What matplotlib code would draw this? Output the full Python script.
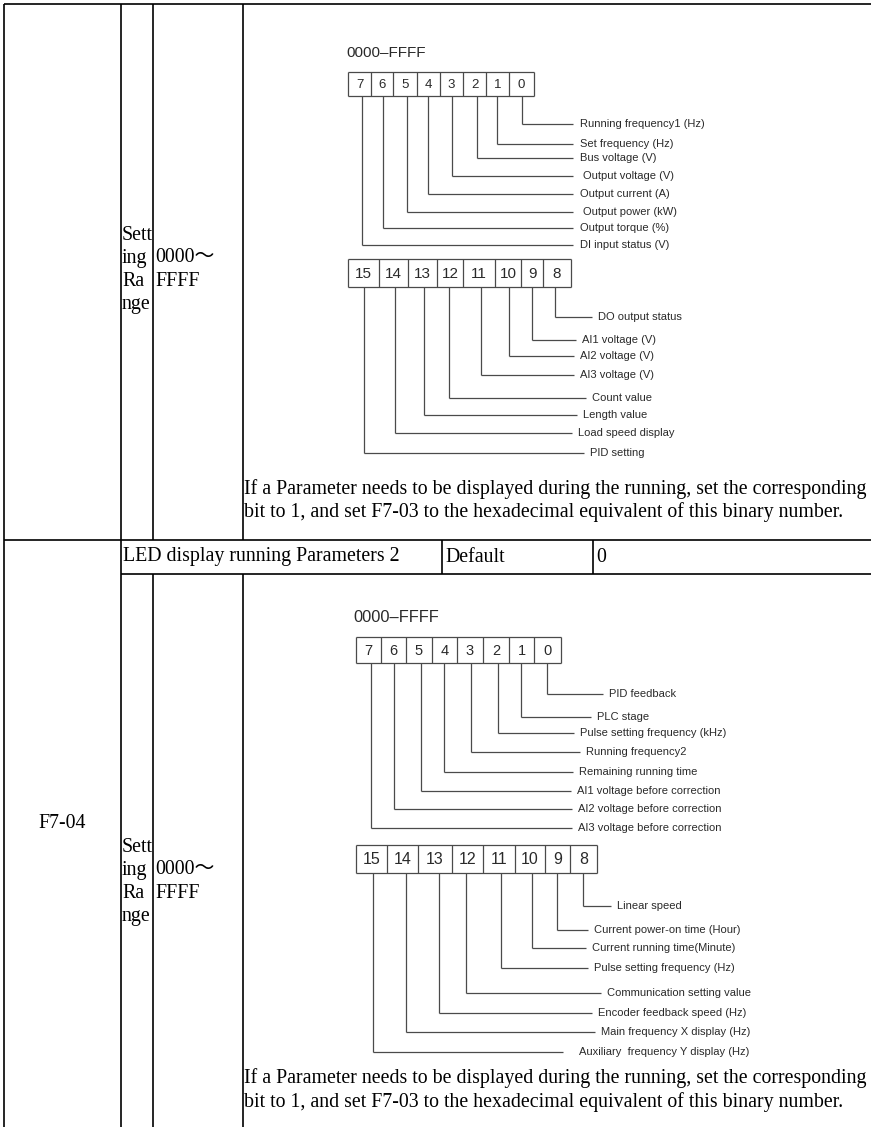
import matplotlib.pyplot as plt

# bit names, taken from the two diagrams
names_f703_low = ['Running frequency1 (Hz)', 'Set frequency (Hz)', 'Bus voltage (V)',
                  'Output voltage (V)', 'Output current (A)', 'Output power (kW)',
                  'Output torque (%)', 'DI input status (V)']
names_f703_high = ['DO output status', 'AI1 voltage (V)', 'AI2 voltage (V)', 'AI3 voltage (V)',
                   'Count value', 'Length value', 'Load speed display', 'PID setting']
names_f704_low = ['PID feedback', 'PLC stage', 'Pulse setting frequency (kHz)',
                  'Running frequency2', 'Remaining running time',
                  'AI1 voltage before correction', 'AI2 voltage before correction',
                  'AI3 voltage before correction']
names_f704_high = ['Linear speed', 'Current power-on time (Hour)', 'Current running time(Minute)',
                   'Pulse setting frequency (Hz)', 'Communication setting value',
                   'Encoder feedback speed (Hz)', 'Main frequency X display (Hz)',
                   'Auxiliary  frequency Y display (Hz)']
bits_low = ['7', '6', '5', '4', '3', '2', '1', '0']
bits_high = ['15', '14', '13', '12', '11', '10', '9', '8']

range_text = '0000\u2013FFFF'
setting_words = ['Sett', 'ing', 'Ra', 'nge']
range_words = ['0000\uff5e', 'FFFF']
note_lines = ['If a Parameter needs to be displayed during the running, set the corresponding',
              'bit to 1, and set F7-03 to the hexadecimal equivalent of this binary number.']
header_cells = ['LED display running Parameters 2', 'Default', '0']
code_f704 = 'F7-04'

W, H = 871, 1127
fig = plt.figure(figsize=(W / 100, H / 100), dpi=100)
ax = fig.add_axes([0, 0, 1, 1])
ax.set_xlim(0, W)
ax.set_ylim(H, 0)
ax.axis('off')

SERIF = ['Liberation Serif', 'Noto Sans CJK SC', 'DejaVu Serif']
SANS = 'Liberation Sans'
GRAY = '#4a4a4a'
TXT = '#2a2a2a'
FS = 14.3   # body text
FL = 8.0    # bit names


def hline(y, x0, x1, c='black', lw=1.2):
    ax.plot([x0, x1], [y, y], color=c, lw=lw, solid_capstyle='butt')


def vline(x, y0, y1, c='black', lw=1.2):
    ax.plot([x, x], [y0, y1], color=c, lw=lw, solid_capstyle='butt')


def boxes(edges, top, bot, labels, fs):
    hline(top, edges[0], edges[-1], GRAY, 0.9)
    hline(bot, edges[0], edges[-1], GRAY, 0.9)
    for x in edges:
        vline(x, top, bot, GRAY, 0.9)
    for i, lab in enumerate(labels):
        ax.text((edges[i] + edges[i + 1]) / 2, (top + bot) / 2 + 1, lab, family=SANS,
                fontsize=fs, color=TXT, ha='center', va='center')


def leads(stems, top, elbows, ends, label_x, names):
    # stems are listed left to right (high bit first), names low bit first
    n = len(stems)
    for k in range(n):
        sx = stems[n - 1 - k]
        y = elbows[k]
        vline(sx, top, y, GRAY, 0.9)
        hline(y, sx, ends[k], GRAY, 0.9)
        ax.text(label_x[k], y, names[k], family=SANS, fontsize=FL, color=TXT,
                ha='left', va='center')


# ---- table grid ----
hline(4, 4, W)
vline(4, 4, H)
vline(121, 4, H)
for x in (153, 243):
    vline(x, 4, 540)
    vline(x, 574, H)
hline(540, 4, W)
hline(574, 121, W)
vline(442, 540, 574)
vline(593, 540, 574)

# ---- block F7-03 ----
ax.text(346, 53, range_text, family=SANS, fontsize=11, color=TXT, va='center')
edges = [348, 371, 393, 417, 440, 463, 486, 509, 534]
boxes(edges, 72, 96, bits_low, 9.5)
leads([362, 383, 407, 428, 452, 477, 497, 522], 96,
      [124, 144, 158, 176, 194, 212, 228, 245],
      [573] * 8, [580, 580, 580, 583, 580, 583, 580, 580], names_f703_low)
edges = [348, 379, 408, 437, 463, 495, 521, 543, 571]
boxes(edges, 259, 287, bits_high, 11)
lx = [598, 582, 580, 580, 592, 583, 578, 590]
leads([364, 395, 424, 449, 481, 509, 532, 555], 287,
      [317, 340, 356, 375, 398, 415, 433, 453],
      [x - 6 for x in lx], lx, names_f703_high)

for i, w in enumerate(setting_words):
    ax.text(122, 236 + 23 * i, w, family=SERIF, fontsize=FS, va='center')
for i, w in enumerate(range_words):
    ax.text(155, 258 + 23 * i, w, family=SERIF, fontsize=FS, va='center')
for i, line in enumerate(note_lines):
    ax.text(244, 489 + 23 * i, line, family=SERIF, fontsize=FS, va='center')

# ---- block F7-04 ----
ax.text(123, 557, header_cells[0], family=SERIF, fontsize=FS, va='center')
ax.text(445, 557, header_cells[1], family=SERIF, fontsize=FS, va='center')
ax.text(596, 557, header_cells[2], family=SERIF, fontsize=FS, va='center')
ax.text(62, 823, code_f704, family=SERIF, fontsize=FS, ha='center', va='center')

ax.text(353, 618, range_text, family=SANS, fontsize=11.8, color=TXT, va='center')
edges = [356, 381, 406, 432, 457, 483, 509, 534, 561]
boxes(edges, 637, 663, bits_low, 10.5)
lx = [609, 597, 580, 586, 579, 577, 578, 578]
leads([371, 394, 421, 444, 471, 498, 521, 547], 663,
      [694, 717, 733, 752, 772, 791, 809, 828],
      [x - 6 for x in lx], lx, names_f704_low)
edges = [356, 387, 418, 452, 483, 515, 545, 570, 597]
boxes(edges, 845, 873, bits_high, 11.5)
lx = [617, 594, 592, 594, 607, 598, 601, 579]
ends = [x - 6 for x in lx]
ends[-1] = 563
leads([373, 406, 439, 466, 501, 532, 557, 583], 873,
      [906, 930, 948, 968, 993, 1013, 1032, 1052],
      ends, lx, names_f704_high)

for i, w in enumerate(setting_words):
    ax.text(122, 847 + 23 * i, w, family=SERIF, fontsize=FS, va='center')
for i, w in enumerate(range_words):
    ax.text(155, 870 + 23 * i, w, family=SERIF, fontsize=FS, va='center')
for i, line in enumerate(note_lines):
    ax.text(244, 1078 + 24 * i, line, family=SERIF, fontsize=FS, va='center')

fig.savefig('out.png', dpi=100)
